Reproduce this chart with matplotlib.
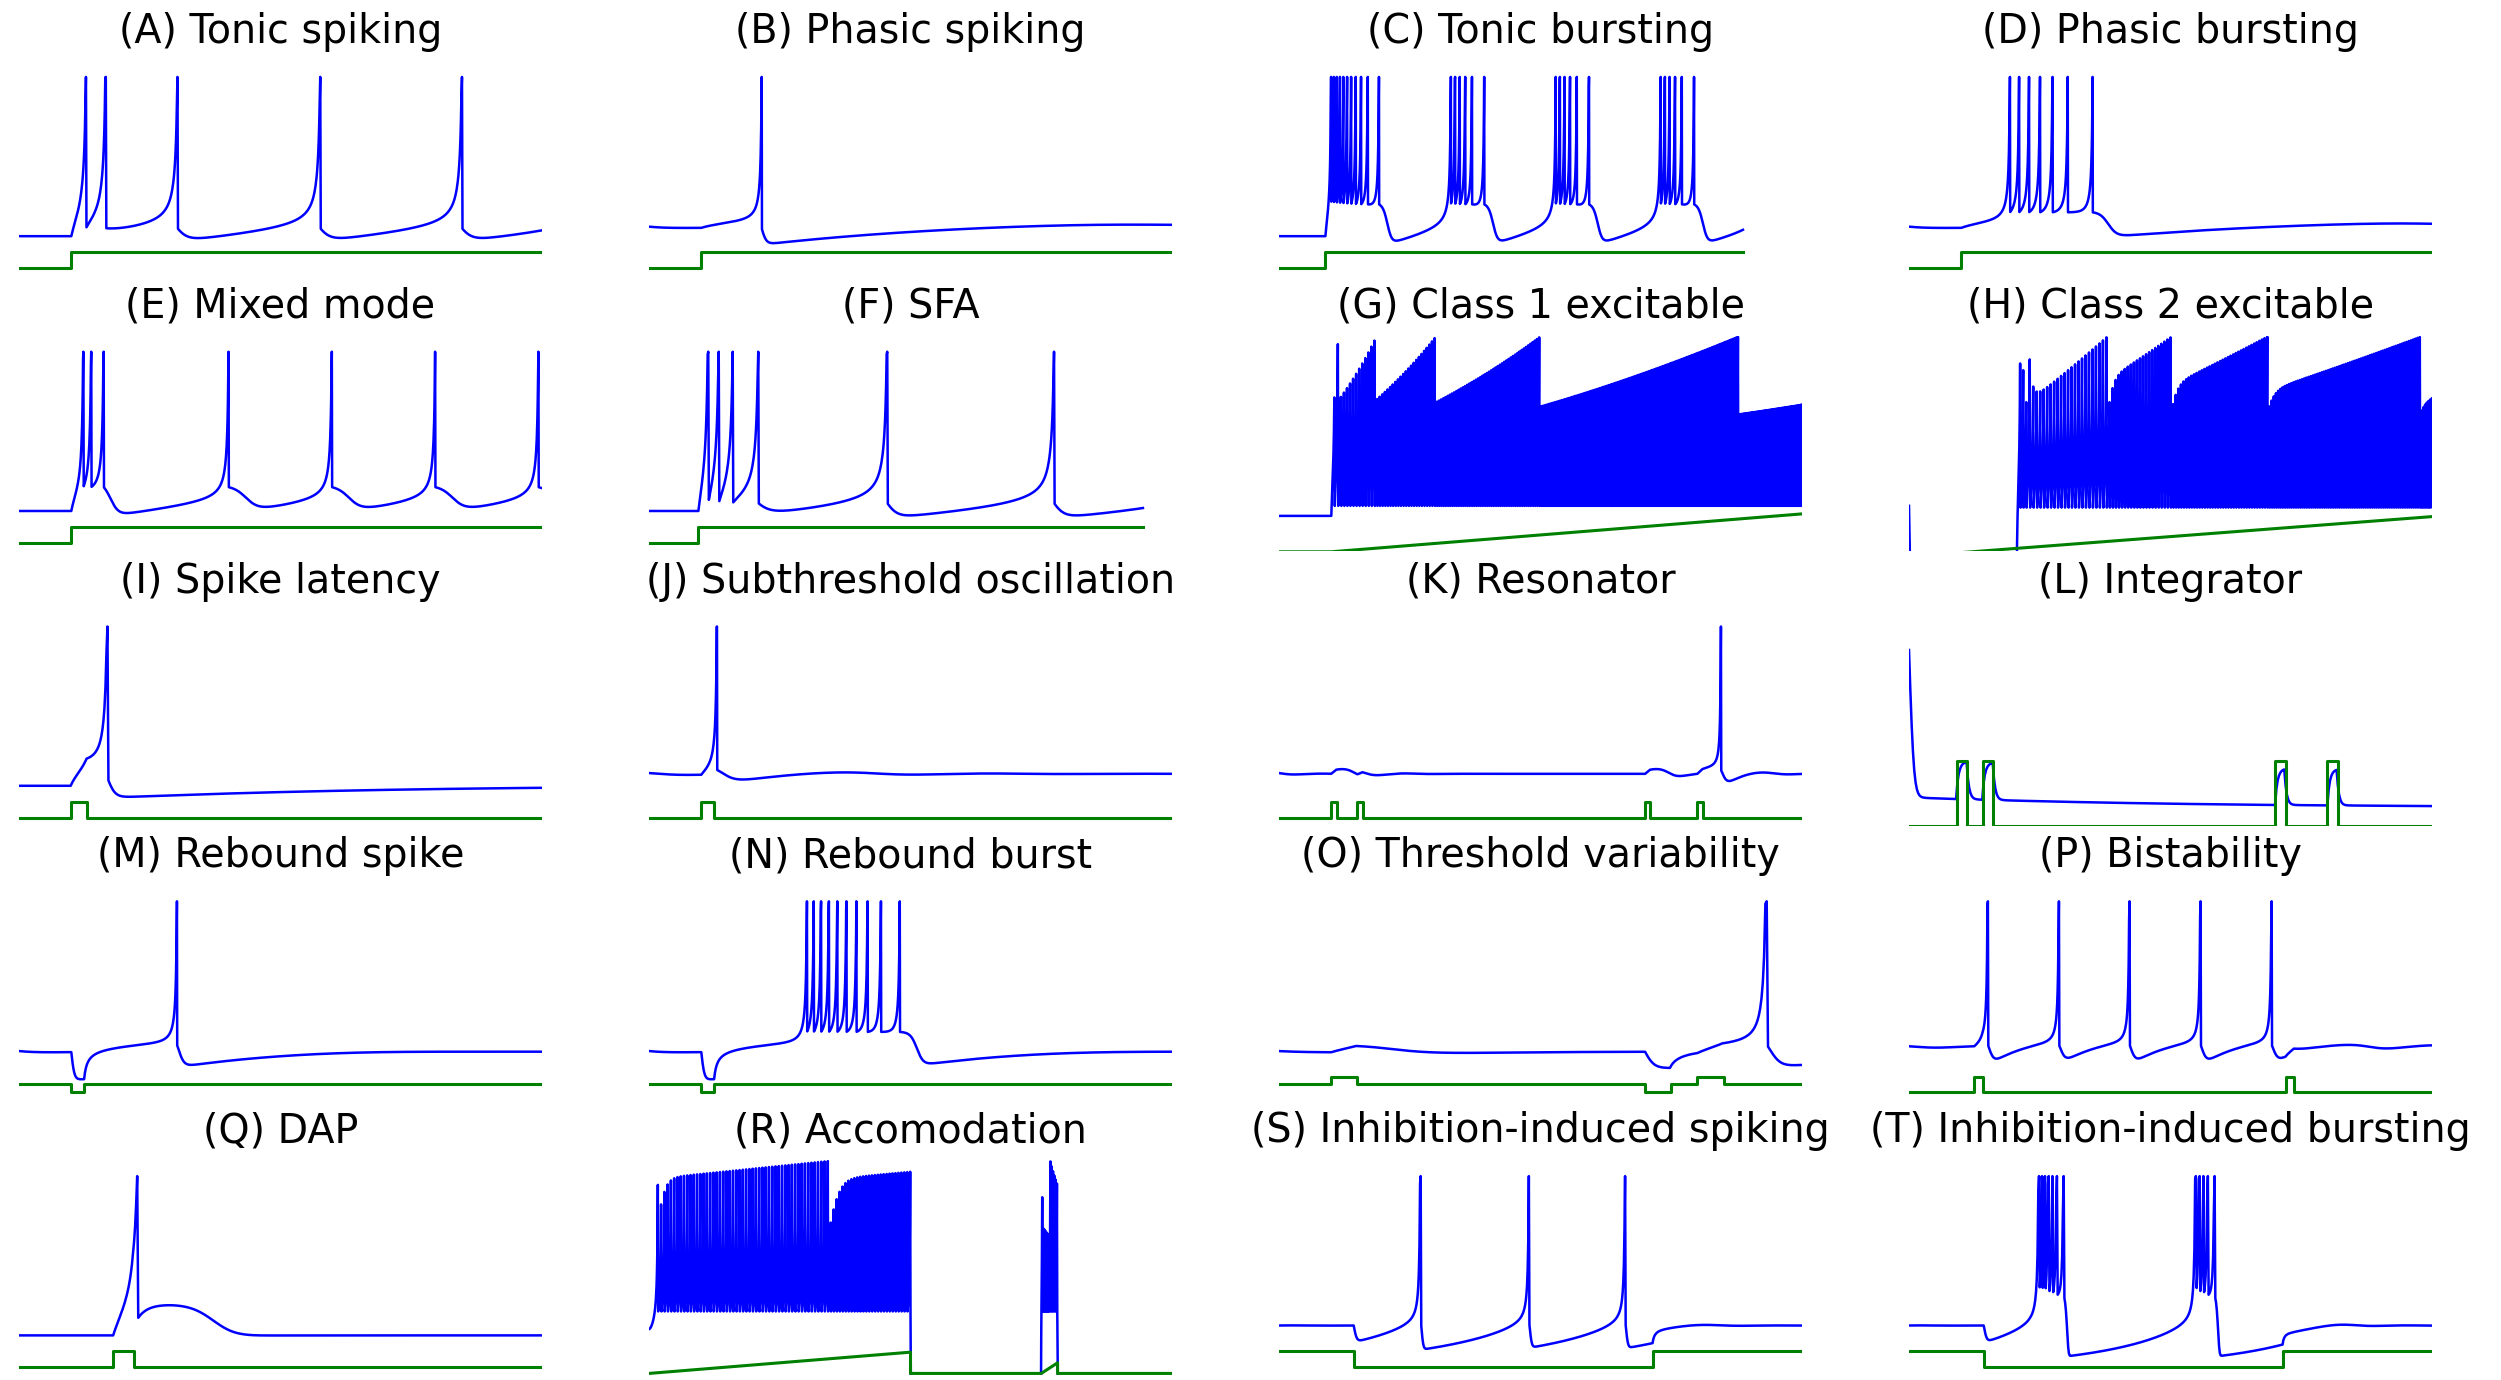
import numpy as np
import matplotlib
matplotlib.use("Agg")
import matplotlib.pyplot as plt

# Izhikevich (2004) firing patterns: one panel per parameter set

titles = ["(A) Tonic spiking", "(B) Phasic spiking", "(C) Tonic bursting", "(D) Phasic bursting",
          "(E) Mixed mode", "(F) SFA", "(G) Class 1 excitable", "(H) Class 2 excitable",
          "(I) Spike latency", "(J) Subthreshold oscillation", "(K) Resonator", "(L) Integrator",
          "(M) Rebound spike", "(N) Rebound burst", "(O) Threshold variability", "(P) Bistability",
          "(Q) DAP", "(R) Accomodation", "(S) Inhibition-induced spiking", "(T) Inhibition-induced bursting"]

a_par = [0.02, 0.02, 0.02, 0.02, 0.02, 0.01, 0.02, 0.2, 0.02, 0.05,
         0.1, 0.02, 0.03, 0.03, 0.03, 0.1, 1.0, 0.02, -0.02, -0.026]
b_par = [0.2, 0.25, 0.2, 0.25, 0.2, 0.2, -0.1, 0.26, 0.2, 0.26,
         0.26, -0.1, 0.25, 0.25, 0.25, 0.26, 0.2, 1.0, -1.0, -1.0]
c_par = [-65, -65, -50, -55, -55, -65, -55, -65, -65, -60,
         -60, -55, -60, -52, -60, -60, -60, -55, -60, -45]
d_par = [6, 6, 2, 0.05, 4, 8, 0, 0, 6, 0,
         -1, 6, 4, 0, 4, 0, -21, 0, 8, -2]
v_init = [-70, -64, -70, -64, -70, -70, -60, -64, -70, -62,
          -62, -60, -64, -64, -64, -61, -70, -65, -63.8, -63.8]
u_init = [None] * 17 + [-16, None, None]
tau_ms = [0.1, 0.1, 0.1, 0.1, 0.1, 0.1, 0.25, 0.25, 0.19, 0.1,
          0.25, 0.25, 0.1, 0.1, 0.25, 0.25, 0.1, 0.25, 0.4, 0.5]
t_stop = [100, 200, 220, 200, 160, 85, 300, 300, 100, 200,
          400, 100, 200, 200, 100, 300, 50, 400, 350, 350]
x_stop = [100, 200, 248, 200, 160, 90, 300, 300, 100, 200,
          400, 100, 200, 200, 100, 300, 50, 400, 350, 350]
# dv/dt = p2*v^2 + p1*v + p0 - u + I
v_poly = [(0.04, 5, 140)] * 6 + [(0.04, 4.1, 108)] + [(0.04, 5, 140)] * 13
# "clip": spike sample drawn at +30 mV, "sub": last sample below threshold
peak_mode = ["clip"] * 6 + ["sub", "sub"] + ["clip"] * 9 + ["sub", "clip", "clip"]

# injected current: base value plus (t0, t1, I0, I1) ramps/steps
END = 1e9
i_base = [0, 0, 0, 0, 0, 0, 0, -0.5, 0, 0, 0, 0, 0, 0, 0, 0.24, 0, 0, 80, 80]
i_steps = [
    [(10, END, 14, 14)],
    [(20, END, 0.5, 0.5)],
    [(22, END, 15, 15)],
    [(20, END, 0.6, 0.6)],
    [(16, END, 10, 10)],
    [(8.5, END, 30, 30)],
    [(30, 300.001, 25, 90)],
    [(0, 62, -60, -60), (62, 300.001, 25, 80)],
    [(10, 13, 7.04, 7.04)],
    [(20, 25, 2, 2)],
    [(40, 44, 0.65, 0.65), (60, 64, 0.65, 0.65), (280, 284, 0.65, 0.65), (320, 324, 0.65, 0.65)],
    [(9.09, 11.09, 9, 9), (14.09, 16.09, 9, 9), (70, 72, 9, 9), (80, 82, 9, 9)],
    [(20, 25, -15, -15)],
    [(20, 25, -15, -15)],
    [(10, 15, 1, 1), (70, 75, -6, -6), (80, 85, 1, 1)],
    [(37.5, 42.5, 1.24, 1.24), (216, 221, 1.24, 1.24)],
    [(9, 11, 20, 20)],
    [(-1e-9, 200, 0, 8), (200 - 1e-9, 300, -150, -150), (300 - 1e-9, 312.5, 0, 4), (312.5 - 1e-9, END, -150, -150)],
    [(50, 250.001, 75, 75)],
    [(50, 250.001, 75, 75)],
]

# stimulus sketch drawn under each trace (ms, mV)
green_t = [
    [0, 10, 10, 100], [0, 20, 20, 200], [0, 22, 22, 220], [0, 20, 20, 200],
    [0, 16, 16, 160], [0, 8.5, 8.5, 85], [0, 30, 300], [0, 30, 300],
    [0, 10, 10, 13, 13, 100], [0, 20, 20, 25, 25, 200],
    [0, 40, 40, 44, 44, 60, 60, 64, 64, 280, 280, 284, 284, 320, 320, 324, 324, 400],
    [0, 9.09, 9.09, 11.09, 11.09, 14.09, 14.09, 16.09, 16.09, 70, 70, 72, 72, 80, 80, 82, 82, 100],
    [0, 20, 20, 25, 25, 200], [0, 20, 20, 25, 25, 200],
    [0, 10, 10, 15, 15, 70, 70, 75, 75, 80, 80, 85, 85, 100],
    [0, 37.5, 37.5, 42.5, 42.5, 216, 216, 221, 221, 300],
    [0, 9, 9, 11, 11, 50],
    [0, 200, 200, 300, 312.5, 312.5, 400],
    [0, 50, 50, 250, 250, 350], [0, 50, 50, 250, 250, 350],
]
green_v = [
    [-90, -90, -80, -80], [-90, -90, -80, -80], [-90, -90, -80, -80], [-90, -90, -80, -80],
    [-90, -90, -80, -80], [-90, -90, -80, -80], [-78, -78, -59], [-90, -90, -70],
    [-90, -90, -80, -80, -90, -90], [-90, -90, -80, -80, -90, -90],
    [-90, -90, -80, -80, -90, -90, -80, -80, -90, -90, -80, -80, -90, -90, -80, -80, -90, -90],
    [-90, -90, -81, -81, -90, -90, -81, -81, -90, -90, -81, -81, -90, -90, -81, -81, -90, -90],
    [-85, -85, -90, -90, -85, -85], [-85, -85, -90, -90, -85, -85],
    [-85, -85, -80, -80, -85, -85, -90, -90, -85, -85, -80, -80, -85, -85],
    [-90, -90, -80, -80, -90, -90, -80, -80, -90, -90],
    [-90, -90, -80, -80, -90, -90],
    [-90, -78, -90, -90, -84, -90, -90],
    [-80, -80, -90, -90, -80, -80], [-80, -80, -90, -90, -80, -80],
]

y_low = [-95] * 6 + [-77.5, -89] + [-95] * 3 + [-90] + [-95] * 5 + [-91, -95, -95]
y_high = [40] * 6 + [None, None] + [40] * 3 + [-60] + [40] * 5 + [None, 40, 40]


def simulate(k):
    dt = tau_ms[k]
    t = np.arange(0.0, t_stop[k] + dt / 2, dt)
    cur = np.full(t.size, float(i_base[k]))
    for t0, t1, i0, i1 in i_steps[k]:
        m = (t > t0) & (t < t1)
        cur[m] = i0 + (i1 - i0) * (t[m] - t0) / (t1 - t0)
    p2, p1, p0 = v_poly[k]
    a, b, c, d = a_par[k], b_par[k], c_par[k], d_par[k]
    v = float(v_init[k])
    u = b * v if u_init[k] is None else float(u_init[k])
    trace = np.empty(t.size)
    for n in range(t.size):
        v = v + dt * (p2 * v * v + p1 * v + p0 - u + cur[n])
        u = u + dt * a * (b * v - u)
        if v > 30:
            trace[n] = 30 if peak_mode[k] == "clip" else c
            v = c
            u = u + d
        else:
            trace[n] = v
    return t, trace


W, H = 2501, 1380
fig = plt.figure(figsize=(W / 100, H / 100), dpi=100)
col_left = [19, 649, 1279, 1909]
ax_w, ax_h = 523, 215

for k in range(20):
    r, cidx = divmod(k, 4)
    top = 61 + 274.8 * r
    ax = fig.add_axes([col_left[cidx] / W, 1 - (top + ax_h) / H, ax_w / W, ax_h / H])
    t, vv = simulate(k)
    ax.plot(t, vv, color="blue", lw=1.8)
    ax.plot(green_t[k], green_v[k], color="green", lw=2.2)
    ax.set_xlim(0, x_stop[k])
    hi = y_high[k] if y_high[k] is not None else vv.max() + 0.5
    ax.set_ylim(y_low[k], hi)
    ax.axis("off")
    fig.text((col_left[cidx] + ax_w / 2) / W, 1 - (32 + 274.8 * r) / H, titles[k],
             ha="center", va="center", fontsize=28.5)

fig.savefig("out.png", dpi=100)
